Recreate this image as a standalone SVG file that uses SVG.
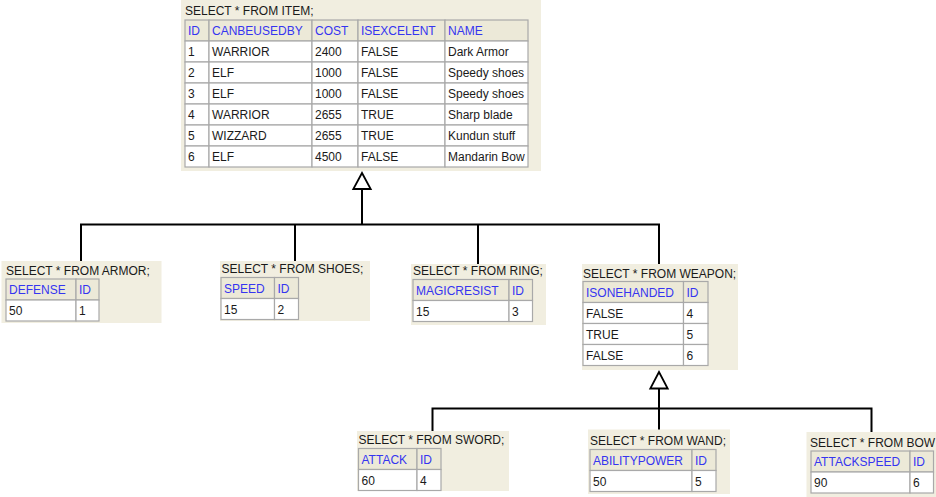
<svg xmlns="http://www.w3.org/2000/svg" width="936" height="497" viewBox="0 0 936 497">
<style>
text{font-family:"Liberation Sans",Arial,sans-serif;font-size:12px}
.p{fill:#f1eee0}
.hc{fill:#ece9d8;stroke:#a9a9a9;stroke-width:1.2}
.dc{fill:#ffffff;stroke:#a9a9a9;stroke-width:1.2}
.t{fill:#1a1a1a}
.h{fill:#3535f0}
.d{fill:#1a1a1a}
.ln{fill:none;stroke:#000;stroke-width:2}
.ar{fill:#fff;stroke:#000;stroke-width:1.8}
</style>
<rect width="936" height="497" fill="#fff"/>
<g id="item">
<rect class="p" x="181" y="0" width="360" height="171"/>
<text class="t" x="185" y="15">SELECT * FROM ITEM;</text>
<rect class="hc" x="185" y="20" width="24" height="21"/><rect class="hc" x="209" y="20" width="103" height="21"/><rect class="hc" x="312" y="20" width="46" height="21"/><rect class="hc" x="358" y="20" width="87" height="21"/><rect class="hc" x="445" y="20" width="83" height="21"/>
<text class="h" x="188" y="35">ID</text><text class="h" x="212" y="35">CANBEUSEDBY</text><text class="h" x="315" y="35">COST</text><text class="h" x="361" y="35">ISEXCELENT</text><text class="h" x="448" y="35">NAME</text>
<g>
<rect class="dc" x="185" y="41" width="24" height="21"/><rect class="dc" x="209" y="41" width="103" height="21"/><rect class="dc" x="312" y="41" width="46" height="21"/><rect class="dc" x="358" y="41" width="87" height="21"/><rect class="dc" x="445" y="41" width="83" height="21"/>
<rect class="dc" x="185" y="62" width="24" height="21"/><rect class="dc" x="209" y="62" width="103" height="21"/><rect class="dc" x="312" y="62" width="46" height="21"/><rect class="dc" x="358" y="62" width="87" height="21"/><rect class="dc" x="445" y="62" width="83" height="21"/>
<rect class="dc" x="185" y="83" width="24" height="21"/><rect class="dc" x="209" y="83" width="103" height="21"/><rect class="dc" x="312" y="83" width="46" height="21"/><rect class="dc" x="358" y="83" width="87" height="21"/><rect class="dc" x="445" y="83" width="83" height="21"/>
<rect class="dc" x="185" y="104" width="24" height="21"/><rect class="dc" x="209" y="104" width="103" height="21"/><rect class="dc" x="312" y="104" width="46" height="21"/><rect class="dc" x="358" y="104" width="87" height="21"/><rect class="dc" x="445" y="104" width="83" height="21"/>
<rect class="dc" x="185" y="125" width="24" height="21"/><rect class="dc" x="209" y="125" width="103" height="21"/><rect class="dc" x="312" y="125" width="46" height="21"/><rect class="dc" x="358" y="125" width="87" height="21"/><rect class="dc" x="445" y="125" width="83" height="21"/>
<rect class="dc" x="185" y="146" width="24" height="21"/><rect class="dc" x="209" y="146" width="103" height="21"/><rect class="dc" x="312" y="146" width="46" height="21"/><rect class="dc" x="358" y="146" width="87" height="21"/><rect class="dc" x="445" y="146" width="83" height="21"/>
</g>
<text class="d" x="188" y="56">1</text><text class="d" x="212" y="56">WARRIOR</text><text class="d" x="315" y="56">2400</text><text class="d" x="361" y="56">FALSE</text><text class="d" x="448" y="56">Dark Armor</text>
<text class="d" x="188" y="77">2</text><text class="d" x="212" y="77">ELF</text><text class="d" x="315" y="77">1000</text><text class="d" x="361" y="77">FALSE</text><text class="d" x="448" y="77">Speedy shoes</text>
<text class="d" x="188" y="98">3</text><text class="d" x="212" y="98">ELF</text><text class="d" x="315" y="98">1000</text><text class="d" x="361" y="98">FALSE</text><text class="d" x="448" y="98">Speedy shoes</text>
<text class="d" x="188" y="119">4</text><text class="d" x="212" y="119">WARRIOR</text><text class="d" x="315" y="119">2655</text><text class="d" x="361" y="119">TRUE</text><text class="d" x="448" y="119">Sharp blade</text>
<text class="d" x="188" y="140">5</text><text class="d" x="212" y="140">WIZZARD</text><text class="d" x="315" y="140">2655</text><text class="d" x="361" y="140">TRUE</text><text class="d" x="448" y="140">Kundun stuff</text>
<text class="d" x="188" y="161">6</text><text class="d" x="212" y="161">ELF</text><text class="d" x="315" y="161">4500</text><text class="d" x="361" y="161">FALSE</text><text class="d" x="448" y="161">Mandarin Bow</text>
</g>
<g id="armor">
<rect class="p" x="1.5" y="261" width="160" height="62"/>
<text class="t" x="6" y="275">SELECT * FROM ARMOR;</text>
<rect class="hc" x="6" y="279" width="70" height="21"/><rect class="hc" x="76" y="279" width="23" height="21"/>
<rect class="dc" x="6" y="300" width="70" height="21"/><rect class="dc" x="76" y="300" width="23" height="21"/>
<text class="h" x="9" y="294">DEFENSE</text><text class="h" x="79" y="294">ID</text>
<text class="d" x="9" y="315">50</text><text class="d" x="79" y="315">1</text>
</g>
<g id="shoes">
<rect class="p" x="220" y="261" width="150" height="60"/>
<text class="t" x="221.5" y="273">SELECT * FROM SHOES;</text>
<rect class="hc" x="221" y="277.5" width="53.5" height="21"/><rect class="hc" x="274.5" y="277.5" width="24" height="21"/>
<rect class="dc" x="221" y="298.5" width="53.5" height="21"/><rect class="dc" x="274.5" y="298.5" width="24" height="21"/>
<text class="h" x="224" y="292.5">SPEED</text><text class="h" x="277.5" y="292.5">ID</text>
<text class="d" x="224" y="313.5">15</text><text class="d" x="277.5" y="313.5">2</text>
</g>
<g id="ring">
<rect class="p" x="411" y="264" width="135" height="61"/>
<text class="t" x="413" y="275">SELECT * FROM RING;</text>
<rect class="hc" x="413" y="279.5" width="96" height="21"/><rect class="hc" x="509" y="279.5" width="23.5" height="21"/>
<rect class="dc" x="413" y="300.5" width="96" height="21"/><rect class="dc" x="509" y="300.5" width="23.5" height="21"/>
<text class="h" x="416" y="294.5">MAGICRESIST</text><text class="h" x="512" y="294.5">ID</text>
<text class="d" x="416" y="315.5">15</text><text class="d" x="512" y="315.5">3</text>
</g>
<g id="weapon">
<rect class="p" x="582" y="264" width="156" height="106"/>
<text class="t" x="583" y="277.5">SELECT * FROM WEAPON;</text>
<rect class="hc" x="583" y="281.5" width="100.5" height="21"/><rect class="hc" x="683.5" y="281.5" width="24.5" height="21"/>
<rect class="dc" x="583" y="302.5" width="100.5" height="21"/><rect class="dc" x="683.5" y="302.5" width="24.5" height="21"/>
<rect class="dc" x="583" y="323.5" width="100.5" height="21"/><rect class="dc" x="683.5" y="323.5" width="24.5" height="21"/>
<rect class="dc" x="583" y="344.5" width="100.5" height="21"/><rect class="dc" x="683.5" y="344.5" width="24.5" height="21"/>
<text class="h" x="586" y="296.5">ISONEHANDED</text><text class="h" x="686.5" y="296.5">ID</text>
<text class="d" x="586" y="317.5">FALSE</text><text class="d" x="686.5" y="317.5">4</text>
<text class="d" x="586" y="338.5">TRUE</text><text class="d" x="686.5" y="338.5">5</text>
<text class="d" x="586" y="359.5">FALSE</text><text class="d" x="686.5" y="359.5">6</text>
</g>
<g id="sword">
<rect class="p" x="357" y="431" width="152" height="60"/>
<text class="t" x="358.5" y="444">SELECT * FROM SWORD;</text>
<rect class="hc" x="358.5" y="448.5" width="58.5" height="21"/><rect class="hc" x="417" y="448.5" width="24" height="21"/>
<rect class="dc" x="358.5" y="469.5" width="58.5" height="21"/><rect class="dc" x="417" y="469.5" width="24" height="21"/>
<text class="h" x="361.5" y="463.5">ATTACK</text><text class="h" x="420" y="463.5">ID</text>
<text class="d" x="361.5" y="484.5">60</text><text class="d" x="420" y="484.5">4</text>
</g>
<g id="wand">
<rect class="p" x="588" y="429.5" width="142" height="64.5"/>
<text class="t" x="590" y="445">SELECT * FROM WAND;</text>
<rect class="hc" x="590" y="449.5" width="102" height="21"/><rect class="hc" x="692" y="449.5" width="24" height="21"/>
<rect class="dc" x="590" y="470.5" width="102" height="21"/><rect class="dc" x="692" y="470.5" width="24" height="21"/>
<text class="h" x="593" y="464.5">ABILITYPOWER</text><text class="h" x="695" y="464.5">ID</text>
<text class="d" x="593" y="485.5">50</text><text class="d" x="695" y="485.5">5</text>
</g>
<g id="bow">
<rect class="p" x="806.5" y="432" width="130" height="65"/>
<text class="t" x="810" y="447">SELECT * FROM BOW</text>
<rect class="hc" x="811" y="451" width="99" height="21"/><rect class="hc" x="910" y="451" width="23.5" height="21"/>
<rect class="dc" x="811" y="472" width="99" height="21"/><rect class="dc" x="910" y="472" width="23.5" height="21"/>
<text class="h" x="814" y="466">ATTACKSPEED</text><text class="h" x="913" y="466">ID</text>
<text class="d" x="814" y="487">90</text><text class="d" x="913" y="487">6</text>
</g>
<g id="connectors">
<path class="ln" d="M81,261 V224.5 H659 V264 M295,224.5 V261 M478,224.5 V264 M362,224.5 V189"/>
<polygon class="ar" points="362,173 353.3,189 370.7,189"/>
<path class="ln" d="M432.5,431 V408.5 H871.5 V432 M659,429.5 V388.5"/>
<polygon class="ar" points="659,372 650.3,388.5 667.7,388.5"/>
</g>
</svg>
